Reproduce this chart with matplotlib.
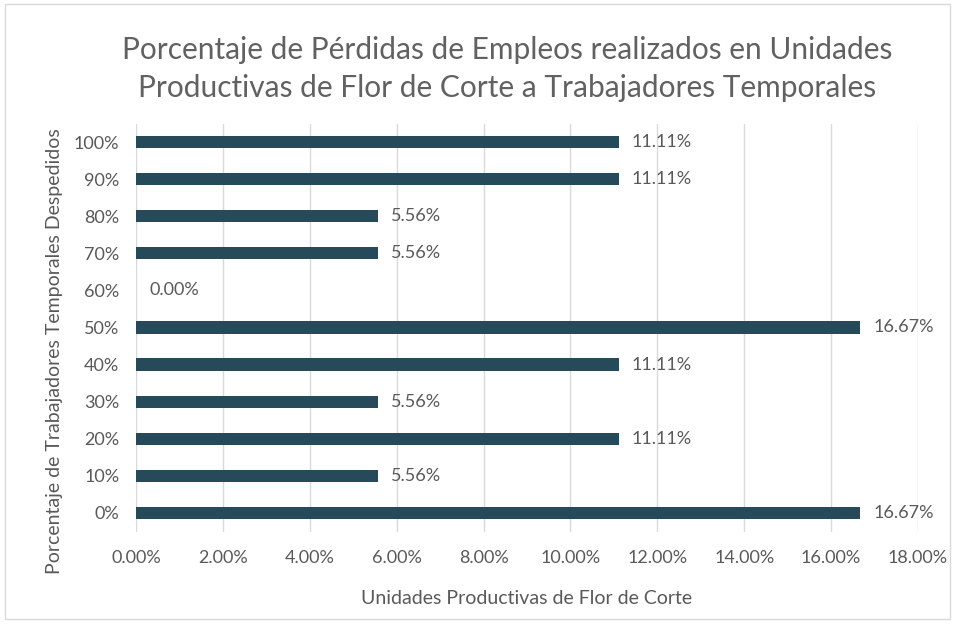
import matplotlib.pyplot as plt
from matplotlib.patches import Rectangle

# data
categorias = ['0%', '10%', '20%', '30%', '40%', '50%', '60%', '70%', '80%', '90%', '100%']
valores = [16.67, 5.56, 11.11, 5.56, 11.11, 16.67, 0.00, 5.56, 5.56, 11.11, 11.11]
xticks = [0, 2, 4, 6, 8, 10, 12, 14, 16, 18]

plt.rcParams['font.family'] = ['Lato', 'DejaVu Sans']
gris = '#595959'

fig = plt.figure(figsize=(9.55, 6.24), dpi=100)
ax = fig.add_axes([136/955, 1-531.5/624, (918-136)/955, 408/624])

pos = range(len(categorias))
ax.barh(pos, valores, height=0.33, color='#264a59', zorder=3)
for y, v in zip(pos, valores):
    ax.text(v + 0.3, y, f'{v:.2f}%', va='center', ha='left', fontsize=13, color=gris)

ax.set_xlim(0, 18)
ax.set_ylim(-0.5, 10.5)
ax.set_xticks(xticks)
ax.set_xticklabels([f'{t:.2f}%' for t in xticks])
ax.set_yticks(list(pos))
ax.set_yticklabels(categorias)
ax.tick_params(length=0, labelsize=13, colors=gris)
ax.tick_params(axis='x', pad=13)
ax.tick_params(axis='y', pad=12)
ax.grid(axis='x', color='#d9d9d9', linewidth=1, zorder=0)
for s in ax.spines.values():
    s.set_visible(False)

ax.set_xlabel('Unidades Productivas de Flor de Corte', fontsize=14, color=gris)
ax.xaxis.set_label_coords(0.5, -0.163)
ax.xaxis.label.set_va('center')
ax.set_ylabel('Porcentaje de Trabajadores Temporales Despedidos', fontsize=14, color=gris)
ax.yaxis.set_label_coords(-0.1036, 0.442)
ax.yaxis.label.set_va('center')
fig.text(507/955, 1-69/624, 'Porcentaje de Pérdidas de Empleos realizados en Unidades\n'
         'Productivas de Flor de Corte a Trabajadores Temporales',
         ha='center', va='center', fontsize=21.5, color='#616161', linespacing=1.4)

fig.patches.append(Rectangle((5/955, 5/624), 945/955, 615/624, transform=fig.transFigure,
                             fill=False, edgecolor='#d9d9d9', linewidth=1))

fig.savefig('out.png', dpi=100)
